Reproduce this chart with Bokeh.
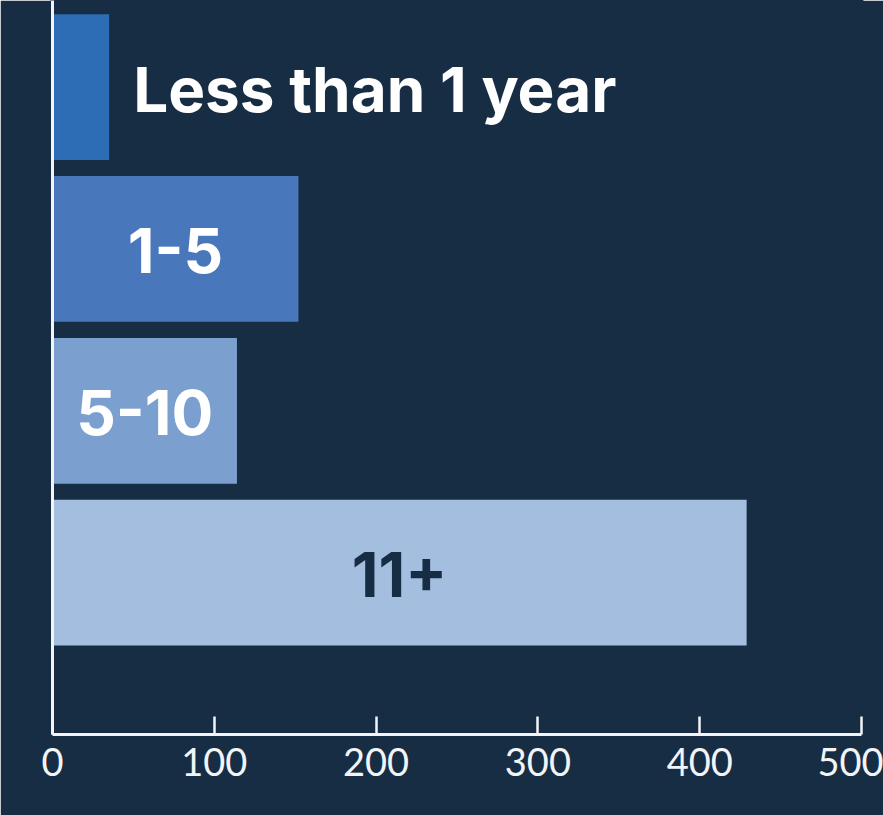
from bokeh.plotting import figure
from bokeh.models import ColumnDataSource, Range1d, FixedTicker
from bokeh.core.properties import value
from bokeh.embed import file_html
from bokeh.resources import INLINE

# Years of experience, top to bottom
categories = ["Less than 1 year", "1-5", "5-10", "11+"]
counts = [35, 152, 114, 429]
bar_colors = ["#2d6db5", "#4878bb", "#7b9fcf", "#a3bedf"]
label_colors = ["#ffffff", "#ffffff", "#ffffff", "#172d44"]
# labels that do not fit inside their bar are drawn just past its end
outside = [True, False, False, False]
x_ticks = [0, 100, 200, 300, 400, 500]

BG = "#172d44"
FG = "#f2f4f7"

positions = list(range(1, len(categories) + 1))
label_x = [c if o else c / 2 for c, o in zip(counts, outside)]
label_align = ["left" if o else "center" for o in outside]
label_dx = [24 if o else 0 for o in outside]

src = ColumnDataSource(dict(
    cat=categories, count=counts, y=positions, color=bar_colors,
    lx=label_x, lcolor=label_colors, lalign=label_align, ldx=label_dx,
))

p = figure(
    width=883, height=815,
    x_range=Range1d(0, 500), y_range=Range1d(5.0, 0.465),
    output_backend="svg", toolbar_location=None,
    background_fill_color=BG, border_fill_color=BG,
    min_border_left=52, min_border_right=22, min_border_top=0, min_border_bottom=81,
    outline_line_color=BG, outline_line_width=4,
)

p.hbar(y="y", right="count", left=0, height=0.9, color="color", line_color=None, source=src)

p.text(x="lx", y="y", text="cat", source=src,
       text_color="lcolor", text_align="lalign", x_offset="ldx", y_offset=2,
       text_baseline="middle", text_font=value("Inter"),
       text_font_size="62px", text_font_style="bold")

p.grid.visible = False

# bottom axis: ticks pointing into the plot
xa = p.xaxis[0]
xa.ticker = FixedTicker(ticks=x_ticks)
xa.axis_line_color = FG
xa.axis_line_width = 3
xa.major_tick_line_color = FG
xa.major_tick_line_width = 2.5
xa.major_tick_in = 18
xa.major_tick_out = 0
xa.minor_tick_line_color = None
xa.major_label_text_color = FG
xa.major_label_text_font = "Lato"
xa.major_label_text_font_size = "38px"
xa.major_label_standoff = 13

# left axis: plain line only
ya = p.yaxis[0]
ya.axis_line_color = FG
ya.axis_line_width = 3
ya.major_tick_line_color = None
ya.minor_tick_line_color = None
ya.major_label_text_font_size = "0px"
ya.ticker = FixedTicker(ticks=[])

open("out.html", "w").write(file_html(p, INLINE))
